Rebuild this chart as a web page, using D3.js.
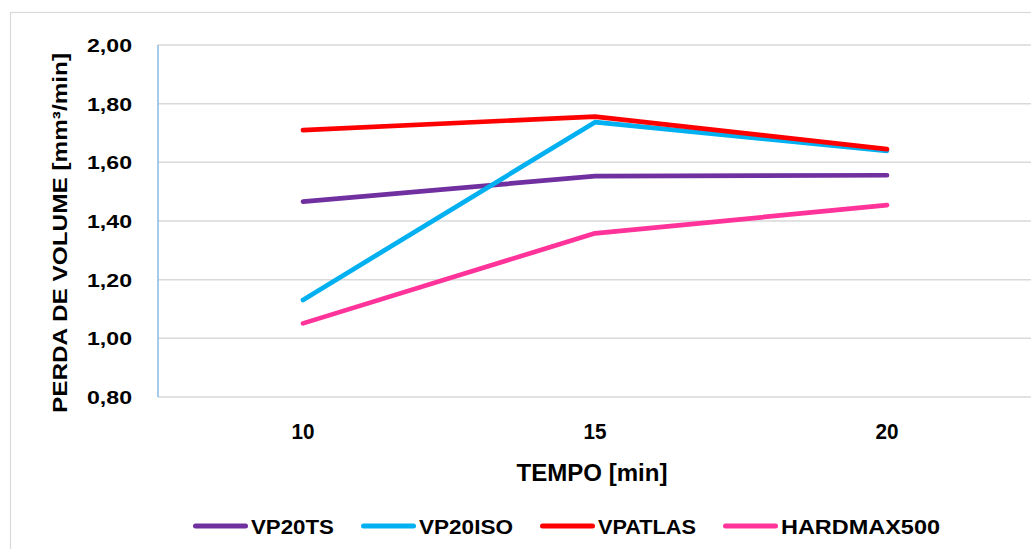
<!DOCTYPE html>
<html><head><meta charset="utf-8">
<script src="https://cdn.jsdelivr.net/npm/d3@7"></script>
<style>
html,body{margin:0;padding:0;background:#fff;overflow:hidden;}
text{font-family:"Liberation Sans",Arial,sans-serif;font-weight:bold;fill:#000;}
</style></head>
<body><svg id="c" width="1031" height="549"></svg>
<script>
const categories = ["10", "15", "20"];
const seriesNames = ["VP20TS", "VP20ISO", "VPATLAS", "HARDMAX500"];
const vp20ts = [1.466, 1.553, 1.556];
const vp20iso = [1.131, 1.737, 1.639];
const vpatlas = [1.710, 1.756, 1.645];
const hardmax500 = [1.051, 1.358, 1.454];
const yTicks = [0.8, 1.0, 1.2, 1.4, 1.6, 1.8, 2.0];
const colors = ["#7030a0", "#00b0f0", "#ff0000", "#ff3399"];
const seriesValues = [vp20ts, vp20iso, vpatlas, hardmax500];

const svg = d3.select("#c");
// outer chart border
svg.append("rect").attr("x", 10.5).attr("y", 12.5).attr("width", 1040).attr("height", 560)
  .attr("fill", "#fff").attr("stroke", "#d9d9d9").attr("stroke-width", 1.2);

const x = d3.scalePoint().domain(categories).range([157, 1033]).padding(0.5);
const y = d3.scaleLinear().domain([0.8, 2.0]).range([397, 45]);

// gridlines
svg.append("g").selectAll("line").data(yTicks).join("line")
  .attr("x1", 158).attr("x2", 1040)
  .attr("y1", d => y(d)).attr("y2", d => y(d))
  .attr("stroke", "#d9d9d9").attr("stroke-width", 1.5);

// y axis line
svg.append("line").attr("x1", 158).attr("x2", 158).attr("y1", y(2.0)).attr("y2", y(0.8))
  .attr("stroke", "#6fa8dc").attr("stroke-width", 1.2);

// y tick labels
const fmt = d => d3.format(".2f")(d).replace(".", ",");
svg.append("g").selectAll("text").data(yTicks).join("text")
  .attr("x", 132).attr("y", d => y(d)).attr("dy", "0.36em")
  .attr("text-anchor", "end").attr("font-size", 19)
  .attr("textLength", 45).attr("lengthAdjust", "spacingAndGlyphs")
  .text(fmt);

// x tick labels
svg.append("g").selectAll("text").data(categories).join("text")
  .attr("x", d => x(d)).attr("y", 439)
  .attr("text-anchor", "middle").attr("font-size", 22)
  .attr("textLength", 23).attr("lengthAdjust", "spacingAndGlyphs")
  .text(d => d);

// axis titles
svg.append("text").attr("x", 592).attr("y", 481).attr("text-anchor", "middle")
  .attr("font-size", 24).attr("textLength", 151).attr("lengthAdjust", "spacingAndGlyphs")
  .text("TEMPO [min]");
svg.append("text").attr("transform", "translate(67,233) rotate(-90)")
  .attr("text-anchor", "middle").attr("font-size", 21)
  .attr("textLength", 360).attr("lengthAdjust", "spacingAndGlyphs")
  .text("PERDA DE VOLUME [mm³/min]");

// lines
const line = d3.line().x((d, i) => x(categories[i])).y(d => y(d));
svg.append("g").selectAll("path").data(seriesValues).join("path")
  .attr("d", d => line(d)).attr("fill", "none")
  .attr("stroke", (d, i) => colors[i]).attr("stroke-width", 4.7)
  .attr("stroke-linejoin", "round").attr("stroke-linecap", "round");

// legend
const legendTextW = [83, 94, 98, 159];
const swatch = 55, gapT = 3, gapItem = 27;
let lx = 193;
const ly = 526;
const lg = svg.append("g");
seriesNames.forEach((name, i) => {
  lg.append("line").attr("x1", lx + 2.5).attr("x2", lx + swatch - 2.5).attr("y1", ly).attr("y2", ly)
    .attr("stroke", colors[i]).attr("stroke-width", 5).attr("stroke-linecap", "round");
  lg.append("text").attr("x", lx + swatch + gapT).attr("y", ly).attr("dy", "0.36em")
    .attr("font-size", 21).attr("textLength", legendTextW[i]).attr("lengthAdjust", "spacingAndGlyphs")
    .text(name);
  lx += swatch + gapT + legendTextW[i] + gapItem;
});
</script></body></html>
